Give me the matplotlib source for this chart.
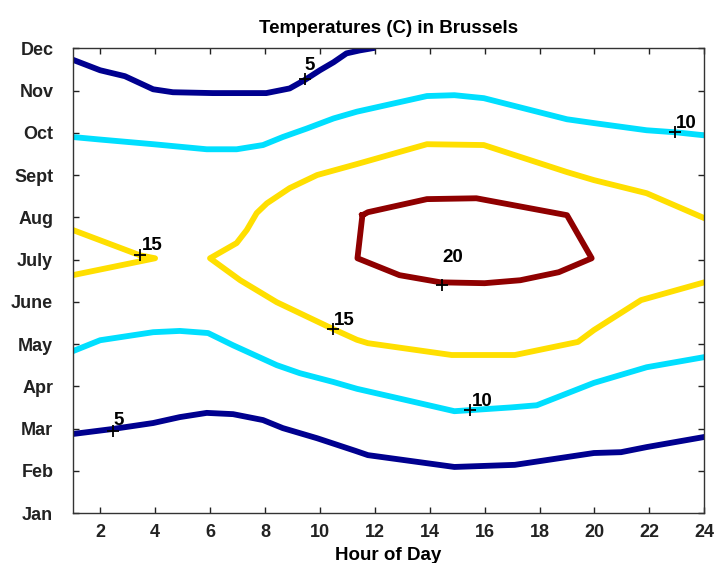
import matplotlib
matplotlib.use("Agg")
import matplotlib.pyplot as plt

# contour lines of temperature, traced as (hour, month) pairs
c5_top_h = [1, 2, 2.9, 3.93, 4.65, 6.1, 8.05, 8.9, 9.45, 10.0, 10.5, 10.97, 11.45, 11.9]
c5_top_m = [11.73, 11.48, 11.34, 11.03, 10.96, 10.94, 10.94, 11.05, 11.25, 11.48, 11.67, 11.88, 11.95, 12.0]

c5_bot_h = [1, 2.47, 3.93, 4.9, 5.88, 6.84, 7.93, 8.65, 9.9, 11.3, 11.75, 14.9, 17.1, 19.98, 20.97, 21.9, 24]
c5_bot_m = [2.87, 2.99, 3.13, 3.27, 3.37, 3.34, 3.2, 3.01, 2.77, 2.47, 2.37, 2.09, 2.14, 2.42, 2.44, 2.56, 2.8]

c10_top_h = [1, 2, 3.93, 5.88, 6.97, 7.93, 8.65, 9.52, 10.5, 11.35, 13.9, 14.9, 15.97, 19.0, 19.98, 21.9, 22.99, 24]
c10_top_m = [9.9, 9.84, 9.73, 9.61, 9.61, 9.71, 9.9, 10.1, 10.34, 10.5, 10.87, 10.89, 10.82, 10.32, 10.23, 10.06, 10.01, 9.94]

c10_bot_h = [1, 2, 3.93, 4.9, 5.93, 6.84, 8.43, 9.27, 10.5, 11.35, 12.83, 14.9, 16.98, 17.9, 19.98, 21.9, 24]
c10_bot_m = [4.83, 5.09, 5.28, 5.31, 5.26, 4.97, 4.5, 4.31, 4.1, 3.94, 3.72, 3.41, 3.5, 3.55, 4.08, 4.45, 4.69]

c15_left_h = [1, 3.45, 4.0, 1]
c15_left_m = [7.7, 7.1, 7.03, 6.63]

c15_main_h = [24, 21.9, 19.98, 19.0, 15.97, 13.9, 11.35, 9.9, 8.9, 8.07, 7.7, 7.34, 6.97, 6.0,
              7.1, 8.43, 10.5, 11.35, 11.75, 14.8, 17.1, 19.4, 19.98, 21.7, 24]
c15_main_m = [7.98, 8.57, 8.88, 9.07, 9.71, 9.73, 9.26, 9.0, 8.69, 8.33, 8.1, 7.7, 7.39, 7.03,
              6.51, 5.99, 5.35, 5.1, 5.02, 4.74, 4.74, 5.05, 5.33, 6.04, 6.46]

c20_h = [11.55, 11.75, 13.9, 15.7, 19.0, 19.9, 18.7, 17.3, 16.0, 14.4, 12.9, 11.37, 11.55]
c20_m = [8.05, 8.12, 8.43, 8.45, 8.05, 7.03, 6.7, 6.51, 6.44, 6.46, 6.63, 7.03, 8.05]

# contour labels: marker point, text point
lab_text = ["5", "10", "20", "5", "15", "15", "10"]
lab_mark_h = [9.45, 22.95, 14.46, 2.45, 3.45, 10.47, 15.46]
lab_mark_m = [11.27, 10.01, 6.39, 2.94, 7.1, 5.35, 3.44]
lab_txt_h = [9.45, 22.98, 14.47, 2.47, 3.52, 10.5, 15.52]
lab_txt_m = [11.48, 10.11, 6.94, 3.08, 7.22, 5.45, 3.53]

months = ["Jan", "Feb", "Mar", "Apr", "May", "June", "July", "Aug", "Sept", "Oct", "Nov", "Dec"]
hour_ticks = [2, 4, 6, 8, 10, 12, 14, 16, 18, 20, 22, 24]

blue = "#00008f"
cyan = "#00dfff"
yellow = "#ffdf00"
red = "#8f0000"

plt.rcParams["font.family"] = ["Liberation Sans", "DejaVu Sans"]
plt.rcParams["font.weight"] = "bold"

fig = plt.figure(figsize=(7.15, 5.63), dpi=100)
ax = fig.add_axes([0.1017, 0.0888, 0.8833, 0.8254])

lw = 4.2
ax.plot(c5_top_h, c5_top_m, color=blue, lw=lw, solid_joinstyle="round")
ax.plot(c5_bot_h, c5_bot_m, color=blue, lw=lw, solid_joinstyle="round")
ax.plot(c10_top_h, c10_top_m, color=cyan, lw=lw, solid_joinstyle="round")
ax.plot(c10_bot_h, c10_bot_m, color=cyan, lw=lw, solid_joinstyle="round")
ax.plot(c15_left_h, c15_left_m, color=yellow, lw=lw, solid_joinstyle="round")
ax.plot(c15_main_h, c15_main_m, color=yellow, lw=lw, solid_joinstyle="round")
ax.plot(c20_h, c20_m, color=red, lw=lw, solid_joinstyle="round")

ax.plot(lab_mark_h, lab_mark_m, "k+", ms=9, mew=1.3, ls="none")
for t, x, y in zip(lab_text, lab_txt_h, lab_txt_m):
    ax.text(x, y, t, fontsize=13.5, fontweight="bold", ha="left", va="baseline")

ax.set_xlim(1, 24)
ax.set_ylim(1, 12)
ax.set_xticks(hour_ticks)
ax.set_yticks(range(1, 13))
ax.set_yticklabels(months)
ax.tick_params(direction="in", length=4, width=1, top=True, right=True,
               labelsize=13, colors="#222222")
ax.tick_params(axis="y", pad=14)
ax.tick_params(axis="x", pad=8)
ax.tick_params(labeltop=False, labelright=False)
for s in ax.spines.values():
    s.set_color("#333333")
    s.set_linewidth(1)

ax.set_xlabel("Hour of Day", fontsize=13.5, fontweight="bold", labelpad=4)
ax.set_title("Temperatures (C) in Brussels", fontsize=13.5, fontweight="bold", pad=11)

fig.savefig("out.png", dpi=100)
